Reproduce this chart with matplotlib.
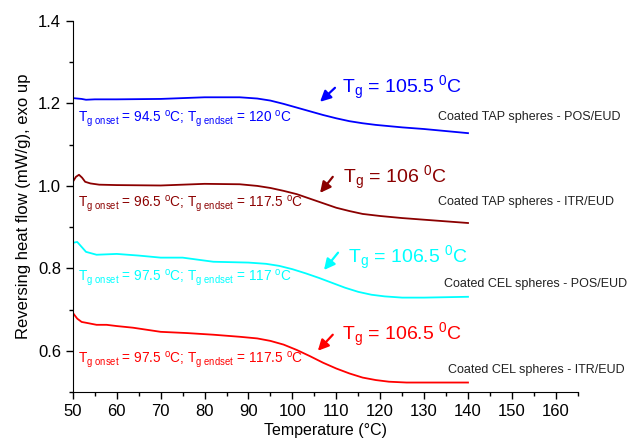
import matplotlib
matplotlib.use("Agg")
import matplotlib.pyplot as plt
import matplotlib.ticker as mticker

plt.rcParams['font.family'] = ['Liberation Sans', 'DejaVu Sans']
plt.rcParams['mathtext.fontset'] = 'custom'
plt.rcParams['mathtext.rm'] = 'Liberation Sans'
plt.rcParams['mathtext.it'] = 'Liberation Sans'
plt.rcParams['mathtext.default'] = 'regular'

# temperatura (C) e fluxo de calor reversivel (mW/g)
temp_tap_pos = [50, 51, 52, 53, 55, 60, 70, 80, 88, 92, 95, 98, 101, 104, 107, 110, 113, 116,
                119, 122, 125, 130, 135, 140]
flow_tap_pos = [1.213, 1.212, 1.211, 1.209, 1.210, 1.210, 1.211, 1.215, 1.215, 1.212, 1.207, 1.199,
                1.190, 1.181, 1.172, 1.164, 1.157, 1.152, 1.148, 1.145, 1.142, 1.138, 1.133, 1.128]

temp_tap_itr = [50, 50.7, 51.4, 52.1, 52.8, 54, 56, 60, 70, 80, 88, 92, 95, 98, 101, 104, 107,
                110, 113, 116, 120, 125, 130, 135, 140]
flow_tap_itr = [1.010, 1.022, 1.027, 1.020, 1.010, 1.006, 1.003, 1.002, 1.001, 1.005, 1.004, 1.000,
                0.995, 0.988, 0.980, 0.969, 0.958, 0.947, 0.939, 0.932, 0.927, 0.922, 0.918, 0.914, 0.910]

temp_cel_pos = [50, 51, 52, 53, 55.4, 60, 65, 70, 75, 82, 90, 94, 97, 100, 103, 106, 109, 112,
                115, 118, 121, 125, 130, 135, 140]
flow_cel_pos = [0.862, 0.864, 0.852, 0.840, 0.833, 0.835, 0.831, 0.826, 0.826, 0.816, 0.814, 0.811,
                0.806, 0.798, 0.788, 0.777, 0.765, 0.753, 0.743, 0.736, 0.732, 0.729, 0.729, 0.730, 0.731]

temp_cel_itr = [50, 51, 52, 53, 55.4, 57.7, 60, 63.7, 70, 76, 82, 88, 92, 95, 98, 101, 104, 107,
                110, 113, 116, 119, 122, 126, 130, 140]
flow_cel_itr = [0.692, 0.678, 0.670, 0.668, 0.663, 0.663, 0.660, 0.656, 0.646, 0.643, 0.639, 0.634,
                0.630, 0.624, 0.615, 0.602, 0.587, 0.571, 0.557, 0.545, 0.535, 0.529, 0.525, 0.523,
                0.523, 0.523]

series_names = ['Coated TAP spheres - POS/EUD', 'Coated TAP spheres - ITR/EUD',
                'Coated CEL spheres - POS/EUD', 'Coated CEL spheres - ITR/EUD']
series_colors = ['#0000ff', '#8b0000', '#00ffff', '#ff0000']
tg_values = ['105.5', '106', '106.5', '106.5']
tg_onsets = ['94.5', '96.5', '97.5', '97.5']
tg_endsets = ['120', '117.5', '117', '117.5']

temps = [temp_tap_pos, temp_tap_itr, temp_cel_pos, temp_cel_itr]
flows = [flow_tap_pos, flow_tap_itr, flow_cel_pos, flow_cel_itr]

# posicoes dos textos (x, y em unidades dos dados)
name_pos = [(133.1, 1.167), (133.1, 0.961), (134.5, 0.762), (135.4, 0.554)]
onset_pos = [(51.1, 1.155), (51.1, 0.949), (51.1, 0.770), (51.1, 0.571)]
tg_pos = [(111.3, 1.225), (111.5, 1.007), (112.6, 0.813), (111.3, 0.627)]
arrow_tail = [(109.7, 1.238), (109.2, 1.022), (110.4, 0.838), (109.2, 0.639)]
arrow_head = [(106.3, 1.204), (106.3, 0.983), (107.2, 0.796), (105.8, 0.600)]

fig = plt.figure(figsize=(6.28, 4.38), dpi=100)
ax = fig.add_axes([0.116, 0.105, 0.804, 0.847])

for i in range(4):
    c = series_colors[i]
    ax.plot(temps[i], flows[i], color=c, lw=1.3)
    ax.text(name_pos[i][0], name_pos[i][1], series_names[i], fontsize=9,
            color='#222222', va='center', ha='left')
    ax.text(onset_pos[i][0], onset_pos[i][1],
            'T$_{g\\ onset}$ = ' + tg_onsets[i] + ' $^o$C; T$_{g\\ endset}$ = ' + tg_endsets[i] + ' $^o$C',
            fontsize=9.8, color=c, va='baseline', ha='left')
    ax.text(tg_pos[i][0], tg_pos[i][1], 'T$_g$ = ' + tg_values[i] + ' $^0$C',
            fontsize=14, color=c, va='baseline', ha='left')
    ax.annotate('', xy=arrow_head[i], xytext=arrow_tail[i],
                arrowprops=dict(arrowstyle='-|>', color=c, lw=1.6, mutation_scale=16,
                                shrinkA=0, shrinkB=0))

ax.set_xlim(50, 165)
ax.set_ylim(0.5, 1.4)
ax.xaxis.set_major_locator(mticker.MultipleLocator(10))
ax.xaxis.set_minor_locator(mticker.MultipleLocator(5))
ax.yaxis.set_major_locator(mticker.FixedLocator([0.6, 0.8, 1.0, 1.2, 1.4]))
ax.yaxis.set_minor_locator(mticker.FixedLocator([0.5, 0.7, 0.9, 1.1, 1.3]))
ax.yaxis.set_major_formatter(mticker.FormatStrFormatter('%.1f'))

ax.spines['top'].set_visible(False)
ax.spines['right'].set_visible(False)
ax.tick_params(which='major', direction='out', length=5, width=1, labelsize=12)
ax.tick_params(which='minor', direction='out', length=3, width=1)

ax.set_xlabel('Temperature (°C)', fontsize=11.5, labelpad=3)
ax.set_ylabel('Reversing heat flow (mW/g), exo up', fontsize=12, labelpad=5)

fig.savefig('out.png', dpi=100)
